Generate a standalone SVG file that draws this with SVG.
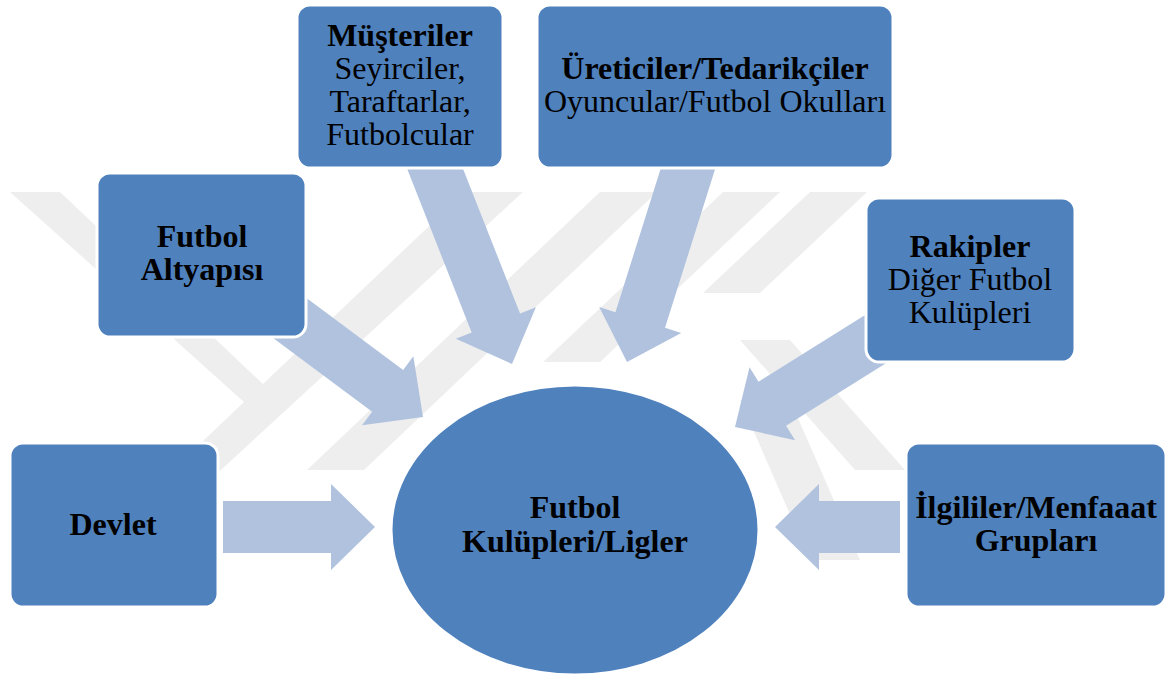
<svg xmlns="http://www.w3.org/2000/svg" width="1172" height="679" viewBox="0 0 1172 679">
  <defs>
    <style>
      .wm { fill: #eeeeee; }
      .box { fill: #4f81bd; stroke: #ffffff; stroke-width: 3; }
      .arrow { fill: #b0c2de; }
      .t { font-family: "Liberation Serif", "Times New Roman", serif; font-size: 32px; fill: #000000; text-anchor: middle; }
      .b { font-weight: bold; }
    </style>
  </defs>
  <rect width="1172" height="679" fill="#ffffff"/>

  <g id="watermark">
    <polygon class="wm" points="10,192 60,192 263,384 465,192 523,192 210,480 162,480 244,402"/>
    <polygon class="wm" points="600,192 657,192 364,470 307,470"/>
    <polygon class="wm" points="723,192 780,192 600,362 543,362"/>
    <polygon class="wm" points="810,192 867,192 760,293 703,293"/>
    <polygon class="wm" points="740,340 790,340 905,470 855,470"/>
    <polygon class="wm" points="740,400 790,400 860,560 810,560"/>
  </g>

  <g id="connectors">
    <polygon class="arrow" points="375,527 331,484 331,501 223,501 223,553 331,553 331,570"/>
    <polygon class="arrow" points="775,527 819,484 819,501 900,501 900,553 819,553 819,570"/>
    <polygon class="arrow" transform="translate(423,417) rotate(36.6)" points="0,0 -44,-43 -44,-26 -190,-26 -190,26 -44,26 -44,43"/>
    <polygon class="arrow" transform="translate(512,364) rotate(68.5)" points="0,0 -44,-43 -44,-26 -240,-26 -240,26 -44,26 -44,43"/>
    <polygon class="arrow" transform="translate(627,362) rotate(107.5)" points="0,0 -44,-43 -44,-26 -230,-26 -230,26 -44,26 -44,43"/>
    <polygon class="arrow" transform="translate(735,427) rotate(148)" points="0,0 -44,-43 -44,-26 -190,-26 -190,26 -44,26 -44,43"/>
  </g>

  <g id="node-musteriler">
    <rect class="box" x="297" y="5" width="206" height="163" rx="13"/>
    <text class="t b" x="400" y="46">Müşteriler</text>
    <text class="t" x="400" y="79">Seyirciler,</text>
    <text class="t" x="400" y="112">Taraftarlar,</text>
    <text class="t" x="400" y="145">Futbolcular</text>
  </g>
  <g id="node-ureticiler">
    <rect class="box" x="537" y="5" width="356" height="163" rx="13"/>
    <text class="t b" x="715" y="79">Üreticiler/Tedarikçiler</text>
    <text class="t" x="715" y="112">Oyuncular/Futbol Okulları</text>
  </g>
  <g id="node-altyapi">
    <rect class="box" x="97" y="173" width="209" height="164" rx="13"/>
    <text class="t b" x="202" y="247">Futbol</text>
    <text class="t b" x="202" y="280">Altyapısı</text>
  </g>
  <g id="node-rakipler">
    <rect class="box" x="866" y="198" width="209" height="164" rx="13"/>
    <text class="t b" x="970" y="257">Rakipler</text>
    <text class="t" x="970" y="290">Diğer Futbol</text>
    <text class="t" x="970" y="323">Kulüpleri</text>
  </g>
  <g id="node-devlet">
    <rect class="box" x="10" y="443" width="208" height="164" rx="13"/>
    <text class="t b" x="113" y="535">Devlet</text>
  </g>
  <g id="node-ilgililer">
    <rect class="box" x="906" y="443" width="260" height="164" rx="13"/>
    <text class="t b" x="1036" y="518">İlgililer/Menfaaat</text>
    <text class="t b" x="1036" y="551">Grupları</text>
  </g>
  <g id="node-center">
    <ellipse class="box" cx="575" cy="530" rx="184" ry="145" stroke-width="5"/>
    <text class="t b" x="575" y="518">Futbol</text>
    <text class="t b" x="575" y="552">Kulüpleri/Ligler</text>
  </g>
</svg>
